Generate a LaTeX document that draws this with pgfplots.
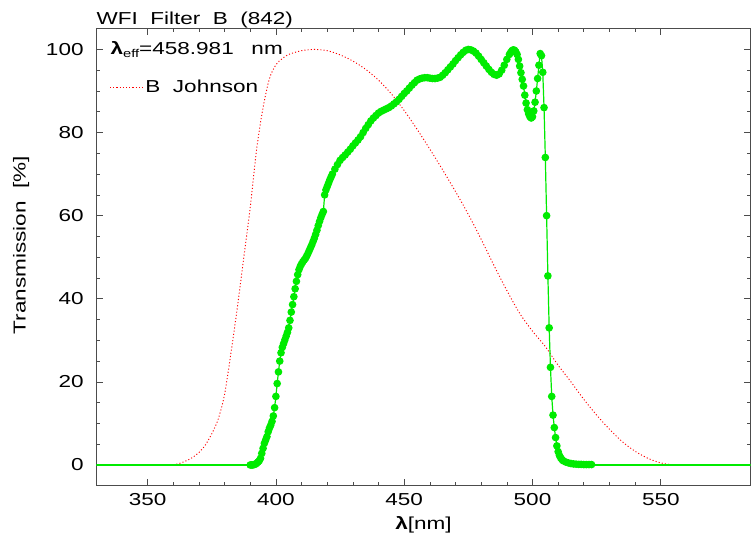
\documentclass[border=0pt]{standalone}
\usepackage{fontspec}
\setmainfont{Liberation Sans}[FakeStretch=1.3, WordSpace=2.0]
\usepackage{pgfplots}
\pgfplotsset{compat=1.18}
\definecolor{fgreen}{RGB}{0,235,0}

\begin{document}
\begin{tikzpicture}
\begin{axis}[
    scale only axis,
    width=491pt, height=343pt,
    xmin=330, xmax=585, ymin=-5, ymax=105,
    xtick={350,400,...,550}, minor x tick num=4,
    ytick={0,20,...,100}, minor y tick num=3,
    major tick length=5pt, minor tick length=2.5pt,
    tick style={black!70, line width=0.5pt},
    axis line style={black!70, line width=0.6pt},
    font=\fontsize{13}{15.5}\selectfont,
    /pgf/number format/assume math mode=true,
    xticklabel style={yshift=-2pt},
    yticklabel style={xshift=-6pt},
    xlabel={\textbf{λ}[nm]},
    ylabel={Transmission [\%]},
    xlabel style={name=xlab, yshift=-1.5pt},
    ylabel style={name=ylab, xshift=9pt, yshift=5.7pt},
    title={WFI Filter B (842)},
    title style={name=ttl, anchor=south west, at={(rel axis cs:0,1)}, inner sep=0pt, yshift=-5.5pt},
    legend style={draw=none, fill=none, inner sep=0pt, at={(rel axis cs:0.02,0.871)}, anchor=west},
    legend cell align=left,
    legend image code/.code={\draw[#1] (0cm,0cm) -- (0.85cm,0cm);},
]
% B Johnson (red, dotted)
\addplot[red, line width=0.7pt, dash pattern=on 0.8pt off 1.6pt, smooth] table {
x y
360 0
362.5 0.4
365 1.0
367.5 1.8
370 3.0
372.5 4.8
375 7.5
377.5 11
380 17
382.5 27
385 38
387.5 50
390 62
392.5 76
395 86
397.5 93
400 96.3
402.5 97.8
405 98.8
410 99.7
415 100
420 99.7
425 98.7
430 97.2
435 95.2
440 92.6
445 89.3
450 85.3
455 80.8
460 76
465 71
470 65.8
475 60.3
480 54.3
485 48
490 42
495 36.5
500 32.2
505 28.5
510 24
515 20
520 15.8
525 12
530 8.6
535 5.6
540 3.3
545 1.6
550 0.5
555 0
};
\addlegendentry{B Johnson}

% WFI B filter (green)
\addplot[draw=fgreen, line width=1pt, forget plot] coordinates {(330,0) (390,0)};
\addplot[draw=fgreen, line width=1pt, forget plot] coordinates {(523,0) (590,0)};
\addplot[fgreen, line width=0.9pt, mark=*, mark size=2.4pt,
         mark options={fill=fgreen, draw=fgreen}, forget plot] table {
x y
390.0 0
390.5 0
391.0 0
391.5 0.1
392.0 0.2
392.5 0.4
393.0 0.7
393.5 1.0
394.0 1.6
394.5 2.8
395.0 4.0
395.5 5.2
396.0 6.0
396.5 6.8
397.0 8.0
397.5 8.9
398.0 9.6
398.5 10.5
399.0 11.8
399.5 13.8
400.0 16.5
400.5 19.6
401.0 22.4
401.5 25.0
402.0 27.0
402.5 28.3
403.0 29.2
403.5 30.1
404.0 31.0
404.5 31.9
405.0 33.0
405.5 34.8
406.0 36.8
406.5 38.6
407.0 40.5
407.5 42.4
408.0 44.2
408.5 45.8
409.0 47.0
409.5 47.8
410.0 48.4
410.5 48.9
411.0 49.3
411.5 49.7
412.0 50.3
412.5 50.9
413.0 51.6
413.5 52.3
414.0 53.0
414.5 53.8
415.0 54.6
415.5 55.5
416.0 56.5
416.5 57.6
417.0 58.6
417.5 59.5
418.0 60.3
418.5 61.0
419.0 65.0
419.5 66.2
420.0 67.0
420.5 67.8
421.0 68.6
421.5 69.3
422.0 70.0
423.0 71.2
424.0 72.3
425.0 73.3
426.0 74.0
427.0 74.6
428.0 75.3
429.0 76.0
430.0 76.8
431.0 77.5
432.0 78.2
433.0 79.0
434.0 80.0
435.0 81.0
436.0 81.9
437.0 82.8
438.0 83.5
439.0 84.1
440.0 84.7
441.0 85.1
442.0 85.4
443.0 85.7
444.0 86.0
445.0 86.4
446.0 86.9
447.0 87.4
448.0 88.0
449.0 88.7
450.0 89.4
451.0 90.0
452.0 90.7
453.0 91.4
454.0 92.0
455.0 92.6
456.0 92.9
457.0 93.1
458.0 93.2
459.0 93.2
460.0 93.1
461.0 93.0
462.0 93.0
463.0 93.1
464.0 93.3
465.0 93.8
466.0 94.4
467.0 95.1
468.0 95.8
469.0 96.5
470.0 97.3
471.0 98.0
472.0 98.7
473.0 99.3
474.0 99.8
475.0 100.0
476.0 99.9
477.0 99.6
478.0 99.1
479.0 98.4
480.0 97.6
481.0 96.8
482.0 96.0
483.0 95.2
484.0 94.5
485.0 94.0
486.0 93.8
487.0 94.1
488.0 95.0
489.0 96.2
490.0 97.6
491.0 98.8
491.5 99.3
492.0 99.7
492.5 99.9
493.0 99.8
493.5 99.4
494.0 98.8
494.5 97.6
495.0 96.0
495.5 94.4
496.0 92.8
496.5 91.2
497.0 89.0
497.5 87.1
498.0 85.5
498.5 84.5
499.0 83.8
499.5 83.5
500.0 83.8
500.5 85.2
501.0 87.3
501.5 90.0
502.0 93.0
502.5 96.2
503.0 99.0
503.5 98.5
504.0 94.5
504.5 86.0
505.0 74.0
505.5 60.0
506.0 45.5
506.5 33.0
507.0 23.5
507.5 16.5
508.0 12.0
508.5 9.0
509.0 6.6
509.5 4.6
510.0 3.2
510.5 2.3
511.0 1.7
511.5 1.3
512.0 1.0
513.0 0.7
514.0 0.5
515.0 0.35
516.0 0.25
517.0 0.2
518.0 0.15
519.0 0.15
520.0 0.1
521.0 0.1
522.0 0.1
523.0 0.1
};

\node[anchor=west, inner sep=0pt] at (rel axis cs:0.0215,0.9545)
  {\textbf{λ}\raisebox{-0.35ex}{\fontsize{8.5}{9}\selectfont eff}=458.981\hspace{0.3em} nm};
\end{axis}
% margins round the picture
\path (ttl.north) ++(0,8.5pt);
\path (ylab.north) ++(-6.3pt,0);
\path (xlab.south) ++(0,-1pt);
\end{tikzpicture}
\end{document}
